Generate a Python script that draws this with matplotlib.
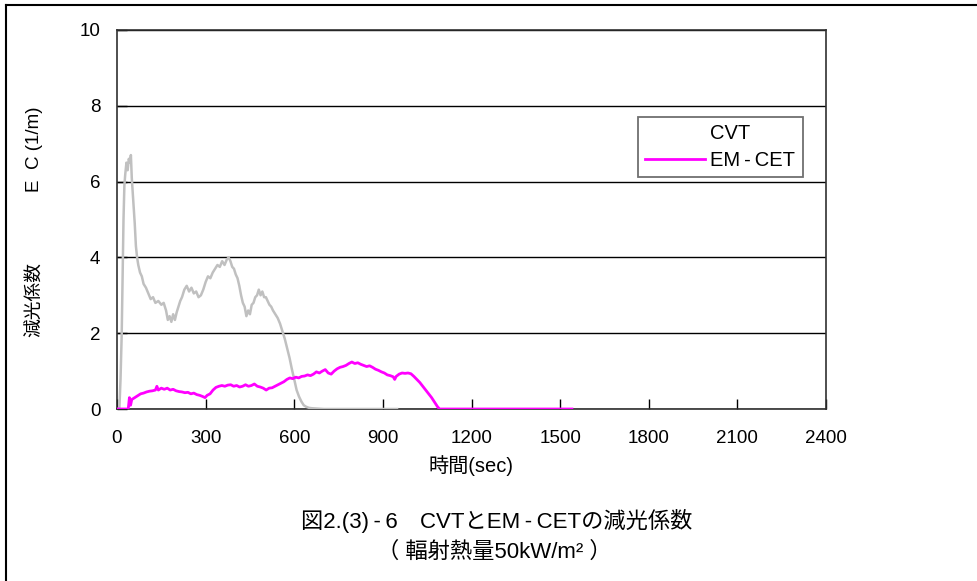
import matplotlib
matplotlib.use("Agg")
import matplotlib.pyplot as plt
from matplotlib.lines import Line2D

plt.rcParams['font.family'] = ['Liberation Sans', 'Noto Sans CJK JP', 'DejaVu Sans']

# ---- data ----
cvt_t = [0, 8, 12, 16, 19, 22, 25, 28, 32, 36,
         40, 44, 47, 50, 55, 60, 64, 68, 72, 78,
         84, 90, 98, 106, 114, 122, 130, 140, 150, 158,
         166, 172, 178, 184, 190, 196, 202, 208, 214, 220,
         228, 236, 244, 252, 260, 268, 276, 284, 292, 300,
         308, 316, 324, 332, 340, 348, 356, 364, 372, 378,
         384, 390, 396, 402, 408, 414, 420, 426, 432, 438,
         444, 450, 456, 462, 468, 474, 480, 486, 492, 498,
         504, 510, 516, 522, 528, 536, 544, 552, 560, 568,
         576, 584, 592, 600, 608, 616, 624, 632, 640, 650,
         660, 680, 700, 800, 900, 948]
cvt_v = [0, 0, 0.8, 2.0, 3.5, 5.0, 5.9, 6.2, 6.5, 6.3,
         6.6, 6.5, 6.7, 6.1, 5.5, 4.9, 4.3, 4.0, 3.8, 3.6,
         3.5, 3.3, 3.2, 3.05, 2.9, 2.95, 2.8, 2.85, 2.75, 2.8,
         2.6, 2.35, 2.45, 2.3, 2.5, 2.35, 2.55, 2.7, 2.85, 2.95,
         3.15, 3.25, 3.1, 3.2, 3.05, 3.1, 2.95, 3.0, 3.15, 3.35,
         3.5, 3.45, 3.6, 3.7, 3.8, 3.75, 3.9, 3.8, 3.95, 4.0,
         3.9, 3.75, 3.7, 3.55, 3.45, 3.25, 3.0, 2.8, 2.7, 2.45,
         2.6, 2.5, 2.75, 2.8, 2.95, 3.0, 3.15, 3.0, 3.1, 2.95,
         2.95, 2.85, 2.75, 2.7, 2.6, 2.5, 2.4, 2.25, 2.05, 1.85,
         1.6, 1.35, 1.05, 0.78, 0.5, 0.33, 0.2, 0.1, 0.06, 0.03,
         0.02, 0.01, 0, 0, 0, 0]

em_t = [0, 38, 42, 46, 50, 60, 70, 80, 90, 100,
        110, 120, 130, 135, 140, 150, 160, 170, 180, 190,
        200, 210, 220, 230, 240, 250, 260, 270, 280, 290,
        298, 305, 315, 325, 335, 345, 355, 365, 375, 385,
        395, 405, 415, 425, 435, 445, 455, 465, 475, 485,
        495, 505, 515, 525, 535, 545, 555, 565, 575, 585,
        595, 605, 615, 625, 635, 645, 655, 665, 675, 685,
        695, 705, 715, 725, 735, 745, 755, 765, 775, 785,
        795, 805, 815, 825, 835, 845, 855, 865, 875, 885,
        895, 905, 915, 925, 935, 940, 945, 955, 965, 975,
        985, 995, 1005, 1015, 1025, 1035, 1045, 1055, 1065, 1075,
        1085, 1092, 1540]
em_v = [0, 0, 0.3, 0.1, 0.25, 0.3, 0.35, 0.4, 0.42, 0.45,
        0.47, 0.48, 0.5, 0.6, 0.5, 0.55, 0.52, 0.55, 0.5, 0.52,
        0.48, 0.46, 0.45, 0.43, 0.44, 0.4, 0.42, 0.38, 0.36, 0.33,
        0.3, 0.36, 0.4, 0.5, 0.57, 0.6, 0.62, 0.6, 0.63, 0.64,
        0.6, 0.62, 0.58, 0.6, 0.64, 0.6, 0.62, 0.66, 0.6, 0.58,
        0.55, 0.5, 0.55, 0.56, 0.6, 0.64, 0.68, 0.72, 0.78, 0.82,
        0.8, 0.84, 0.82, 0.86, 0.87, 0.9, 0.88, 0.92, 0.98, 0.95,
        1.0, 1.04, 0.95, 0.92, 1.0, 1.06, 1.1, 1.12, 1.15, 1.2,
        1.24, 1.2, 1.22, 1.18, 1.15, 1.12, 1.14, 1.1, 1.05, 1.02,
        0.98, 0.95, 0.9, 0.88, 0.85, 0.78, 0.86, 0.92, 0.95, 0.94,
        0.95, 0.93, 0.86, 0.78, 0.7, 0.6, 0.5, 0.4, 0.3, 0.18,
        0.06, 0, 0]

x_ticks = [0, 300, 600, 900, 1200, 1500, 1800, 2100, 2400]
y_ticks = [0, 2, 4, 6, 8, 10]
series_names = ['CVT', 'EM\u2009-\u2009CET']

W, H = 978, 581
fig = plt.figure(figsize=(W / 100, H / 100), dpi=100)

def fx(px):
    return px / W

def fy(py):
    return 1 - py / H

# outer frame
fig.add_artist(Line2D([fx(6), 1], [fy(5), fy(5)], color='black', lw=1.5))
fig.add_artist(Line2D([fx(6), fx(6)], [fy(5), 0], color='black', lw=1.5))

ax = fig.add_axes([fx(117), fy(409), fx(826) - fx(117), fy(30) - fy(409)])
ax.set_xlim(0, 2400)
ax.set_ylim(0, 10)
ax.set_xticks(x_ticks)
ax.set_yticks(y_ticks)
ax.tick_params(direction='in', length=7, width=1, labelsize=13.5, colors='black')
ax.tick_params(axis='x', pad=15)
ax.tick_params(axis='y', pad=12)
for s in ax.spines.values():
    s.set_color('#303030')
    s.set_linewidth(1.2)
ax.yaxis.grid(True, color='black', lw=1)
ax.set_axisbelow(True)

ax.plot(cvt_t, cvt_v, color='#C0C0C0', lw=1.8, zorder=3)
ax.plot(em_t, em_v, color='#FF00FF', lw=2.0, zorder=4)

handles = [Line2D([], [], color='white', lw=2), Line2D([], [], color='#FF00FF', lw=2)]
leg = ax.legend(handles, series_names, loc='upper left',
                bbox_to_anchor=(fx(638), fy(117)), bbox_transform=fig.transFigure,
                borderaxespad=0, fontsize=14.5, handlelength=3.0, handletextpad=0.25,
                borderpad=0.35, labelspacing=0.4, fancybox=False, framealpha=1,
                edgecolor='#707070')
leg.get_frame().set_linewidth(1.3)

fig.text(fx(471), fy(466), '時間(sec)', ha='center', va='center', fontsize=14.5)
fig.text(fx(35), fy(299), '減光係数', ha='center', va='center', rotation=90, fontsize=13.5)
fig.text(fx(35), fy(149), 'E  C (1/m)', ha='center', va='center', rotation=90, fontsize=13.5)
fig.text(fx(497), fy(521), '図2.(3)\u2009-\u20096　CVTとEM\u2009-\u2009CETの減光係数',
         ha='center', va='center', fontsize=16)
fig.text(fx(494), fy(552), '（ 輻射熱量50kW/m² ）', ha='center', va='center', fontsize=16)

fig.savefig('out.png', dpi=100)
